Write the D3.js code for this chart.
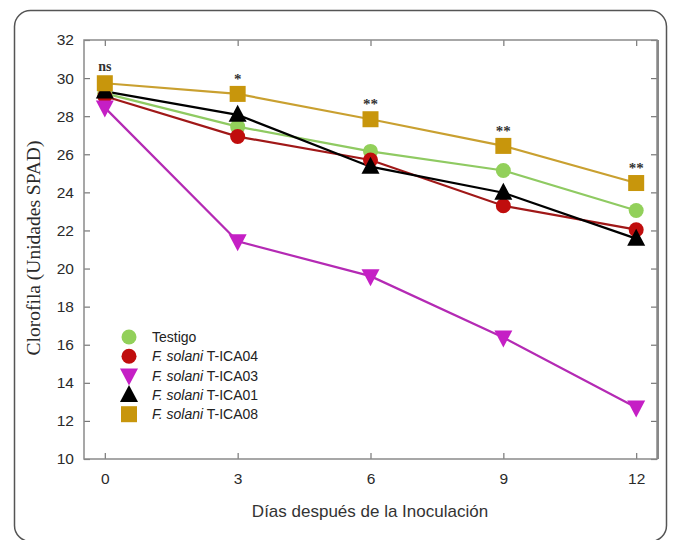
<!DOCTYPE html>
<html>
<head>
<meta charset="utf-8">
<script src="https://cdn.jsdelivr.net/npm/d3@7"></script>
<style>
  body { margin: 0; background: #fff; }
  svg { display: block; }
</style>
</head>
<body>
<div class="chart"></div>
<script>

// datos
const dias = [0, 3, 6, 9, 12];
const testigo = [29.2, 27.45, 26.15, 25.15, 23.05];
const ica04 = [29.05, 26.93, 25.7, 23.3, 22.04];
const ica03 = [28.45, 21.43, 19.6, 16.38, 12.7];
const ica01 = [29.3, 28.07, 25.35, 23.98, 21.57];
const ica08 = [29.73, 29.17, 27.84, 26.44, 24.49];
const signif = ["ns", "*", "**", "**", "**"];
const yTicks = [10, 12, 14, 16, 18, 20, 22, 24, 26, 28, 30, 32];

const series = [
    { name: "Testigo", values: testigo, shape: "circle", fill: "#92d05a", line: "#8fca62" },
    { name: "T-ICA04", values: ica04, shape: "circle", fill: "#c00d0d", line: "#a01818" },
    { name: "T-ICA03", values: ica03, shape: "down", fill: "#c51fc5", line: "#b42ab4" },
    { name: "T-ICA01", values: ica01, shape: "up", fill: "#000000", line: "#000000" },
    { name: "T-ICA08", values: ica08, shape: "square", fill: "#c8960c", line: "#c9a030" }
];

const W = 673, H = 540;
const mLeft = 84, mRight = 657, mTop = 40, mBottom = 459;

const svg = d3.select(".chart")
    .append("svg")
    .attr("width", W)
    .attr("height", H);

// marco redondeado
svg.append("rect")
    .attr("x", 14.5)
    .attr("y", 10.5)
    .attr("width", 652)
    .attr("height", 531)
    .attr("rx", 16)
    .attr("fill", "none")
    .attr("stroke", "#555")
    .attr("stroke-width", 1.5);

const x = d3.scaleLinear()
    .domain([-0.47, 12.47])
    .range([mLeft, mRight]);

const y = d3.scaleLinear()
    .domain([10, 32])
    .range([mBottom, mTop]);

// ejes
svg.append("g")
    .attr("transform", `translate(0,${mBottom})`)
    .call(d3.axisBottom(x).tickValues(dias).tickSize(-6).tickPadding(14))
    .call(g => g.select(".domain").remove());

svg.append("g")
    .attr("transform", `translate(0,${mTop})`)
    .call(d3.axisTop(x).tickValues(dias).tickSize(-6).tickFormat(""))
    .call(g => g.select(".domain").remove());

svg.append("g")
    .attr("transform", `translate(${mLeft},0)`)
    .call(d3.axisLeft(y).tickValues(yTicks).tickSize(-6).tickPadding(10))
    .call(g => g.select(".domain").remove());

svg.append("g")
    .attr("transform", `translate(${mRight},0)`)
    .call(d3.axisRight(y).tickValues(yTicks).tickSize(-6).tickFormat(""))
    .call(g => g.select(".domain").remove());

svg.selectAll(".tick line")
    .attr("stroke", "#777")
    .attr("stroke-width", 1.2);

svg.selectAll(".tick text")
    .attr("font-family", "Liberation Sans, Arial, sans-serif")
    .attr("font-size", 15.5)
    .attr("fill", "#2a2a2a");

svg.append("rect")
    .attr("x", mLeft)
    .attr("y", mTop)
    .attr("width", mRight - mLeft)
    .attr("height", mBottom - mTop)
    .attr("fill", "none")
    .attr("stroke", "#8a8a8a")
    .attr("stroke-width", 1.5);

svg.append("line")
    .attr("x1", mRight + 1).attr("x2", mRight + 1)
    .attr("y1", mTop).attr("y2", mBottom)
    .attr("stroke", "#888")
    .attr("stroke-width", 2);

// títulos de ejes
svg.append("text")
    .attr("x", 370)
    .attr("y", 517)
    .attr("text-anchor", "middle")
    .attr("font-family", "Liberation Sans, Arial, sans-serif")
    .attr("font-size", 17)
    .attr("fill", "#333")
    .text("Días después de la Inoculación");

svg.append("text")
    .attr("transform", "translate(40,248) rotate(-90)")
    .attr("text-anchor", "middle")
    .attr("font-family", "Liberation Serif, Times New Roman, serif")
    .attr("font-size", 19.5)
    .attr("fill", "#2a2a2a")
    .text("Clorofila (Unidades SPAD)");

// simbolos
function marker(g, shape, fill, cx, cy){
    if (shape === "circle") {
        g.append("circle").attr("cx", cx).attr("cy", cy).attr("r", 7.5).attr("fill", fill);
    } else if (shape === "square") {
        g.append("rect").attr("x", cx - 8).attr("y", cy - 8).attr("width", 16).attr("height", 16).attr("fill", fill);
    } else if (shape === "up") {
        g.append("path").attr("d", `M${cx},${cy - 10}L${cx + 9},${cy + 7}L${cx - 9},${cy + 7}Z`).attr("fill", fill);
    } else {
        g.append("path").attr("d", `M${cx},${cy + 10}L${cx + 9},${cy - 7}L${cx - 9},${cy - 7}Z`).attr("fill", fill);
    }
}

const line = d3.line()
    .x((d, i) => x(dias[i]))
    .y(d => y(d));

series.forEach(s => {
    svg.append("path")
        .datum(s.values)
        .attr("d", line)
        .attr("fill", "none")
        .attr("stroke", s.line)
        .attr("stroke-width", 2.2);
});

series.forEach(s => {
    const g = svg.append("g");
    s.values.forEach((v, i) => marker(g, s.shape, s.fill, x(dias[i]), y(v)));
});

// significancia
svg.selectAll(".sig")
    .data(signif)
    .enter()
    .append("text")
    .attr("x", (d, i) => x(dias[i]))
    .attr("y", (d, i) => y(ica08[i]) - (d === "ns" ? 12 : 10))
    .attr("text-anchor", "middle")
    .attr("font-family", "Liberation Serif, Times New Roman, serif")
    .attr("font-weight", "bold")
    .attr("font-size", d => d === "ns" ? 14 : 15)
    .attr("fill", "#333")
    .text(d => d);

// leyenda
const legend = svg.append("g");
series.forEach((s, i) => {
    const ly = 337 + i * 19.3;
    marker(legend, s.shape, s.fill, 129, ly);
    const t = legend.append("text")
        .attr("x", 152)
        .attr("y", ly + 5)
        .attr("font-family", "Liberation Sans, Arial, sans-serif")
        .attr("font-size", 14)
        .attr("fill", "#222");
    if (s.name === "Testigo") {
        t.text("Testigo");
    } else {
        t.append("tspan").attr("font-style", "italic").text("F. solani");
        t.append("tspan").text(" " + s.name);
    }
});

</script>
</body>
</html>
